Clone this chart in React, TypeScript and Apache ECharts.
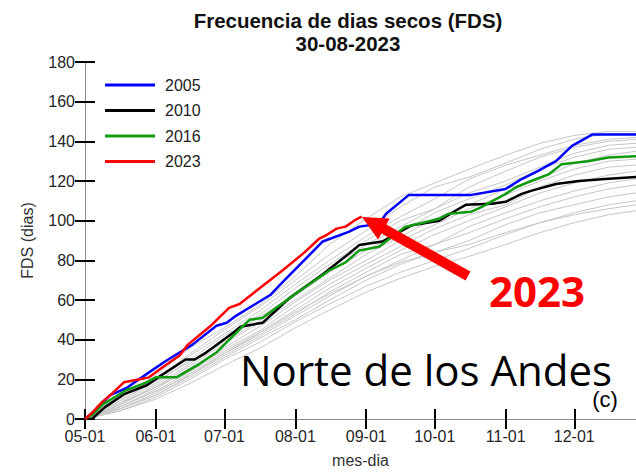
import React, { useEffect, useRef } from "react";
import * as echarts from "echarts";

// days since 05-01
const tickDays = [0, 31, 61, 92, 123, 153, 184, 214];
const tickLabels = ["05-01", "06-01", "07-01", "08-01", "09-01", "10-01", "11-01", "12-01"];
const xMax = 241;

const years = ["2005", "2010", "2016", "2023"];
const yearColors = ["#0000ff", "#000000", "#0f9a0f", "#ff0000"];

const s2005 = [
  [0, 0], [5, 5], [11, 12], [18, 15.5], [28, 23.5], [35, 29], [47, 37.5], [57.5, 47], [62, 48.5],
  [66, 52], [81, 62.5], [86, 68.5], [104, 89.5], [115.6, 94.5], [120, 97], [128.6, 98.5],
  [131.7, 103.5], [141.7, 113], [169, 113], [184, 116], [191, 121], [198, 125], [206, 130],
  [213, 137.7], [222, 143.5], [241, 143.5],
];
const s2010 = [
  [0, 0], [3, 0], [8.7, 6], [17.4, 12.7], [27, 17], [32.7, 21.5], [44, 30], [48, 30], [53, 33.5],
  [56, 36], [66, 44.5], [68, 46.5], [77.7, 48.5], [89.4, 61], [104, 73], [115.6, 83.5], [120, 87.7],
  [130, 89.5], [143, 97.7], [155, 100], [162, 105], [166.5, 108], [178, 108.5], [184, 109.5],
  [191, 113.5], [195, 115], [206, 118.5], [216, 120], [227.5, 121], [241, 122],
];
const s2016 = [
  [0, 0], [3, 2], [8, 7.5], [18, 14.5], [27, 18.5], [31, 21], [40, 21], [50, 27.7], [57.4, 33.5],
  [68.3, 46], [72, 50], [77.7, 51], [92.5, 63.5], [107, 75], [114, 79], [120, 85], [128.6, 86.8],
  [140, 96.8], [155, 101], [159, 103.5], [169, 104.5], [173.6, 107], [184, 113.5], [188, 116.5],
  [194, 119.5], [203, 123.5], [208.5, 128.5], [220, 130], [229, 131.8], [241, 132.5],
];
const s2023 = [
  [0, 0], [3, 3], [7.4, 8.5], [12, 13], [17, 18.5], [24, 20], [28, 21], [35, 27], [41.4, 32],
  [45, 37.5], [54.5, 46.5], [63, 56], [67.6, 58], [86.5, 75], [96, 84], [102.5, 91], [106, 93],
  [110, 96], [114, 97], [117.7, 100], [121, 102],
];

const grayDays = [0, 15, 31, 46, 61, 77, 92, 107, 123, 138, 153, 168, 184, 199, 214, 229, 241];
const grayA = [0, 11, 22, 36, 46, 58, 72, 88, 101, 112, 119, 126, 133, 139, 143, 145, 145];
const grayB = [0, 9, 20, 33, 45, 57, 70, 83, 95, 107, 117, 122, 129, 136, 141, 144, 144];
const grayC = [0, 10, 21, 32, 43, 55, 68, 80, 92, 102, 111, 121, 128, 133, 138, 141, 142];
const grayD = [0, 8, 18, 30, 42, 53, 66, 78, 90, 100, 106, 117, 125, 132, 137, 140, 141];
const grayE = [0, 9, 19, 29, 40, 52, 63, 76, 88, 97, 106, 114, 120, 127, 134, 138, 139];
const grayF = [0, 7, 17, 28, 39, 50, 62, 74, 85, 94, 104, 111, 118, 126, 132, 136, 137];
const grayG = [0, 8, 16, 27, 38, 49, 60, 71, 83, 92, 101, 108, 116, 121, 129, 133, 135];
const grayH = [0, 6, 15, 26, 36, 47, 59, 70, 80, 90, 98, 106, 113, 120, 126, 130, 131];
const grayI = [0, 7, 16, 25, 35, 45, 57, 68, 78, 87, 96, 103, 108, 117, 123, 127, 128];
const grayJ = [0, 6, 14, 24, 34, 44, 55, 66, 76, 85, 93, 100, 107, 114, 119, 123, 125];
const grayK = [0, 5, 13, 23, 33, 43, 53, 64, 74, 83, 88, 97, 104, 110, 115, 119, 121];
const grayL = [0, 6, 14, 22, 32, 42, 52, 62, 72, 80, 88, 94, 101, 107, 112, 116, 118];
const grayM = [0, 5, 12, 21, 31, 41, 50, 60, 70, 78, 84, 90, 98, 104, 108, 112, 114];
const grayN = [0, 4, 11, 20, 30, 39, 49, 58, 67, 74, 80, 86, 93, 99, 104, 108, 110];
const grayO = [0, 5, 12, 22, 33, 44, 54, 63, 72, 79, 84, 88, 94, 99, 103, 106, 108];
const grayP = [0, 4, 10, 18, 27, 36, 46, 55, 64, 71, 77, 82, 88, 94, 99, 103, 105];
const grayYears = [grayA, grayB, grayC, grayD, grayE, grayF, grayG, grayH, grayI, grayJ, grayK, grayL, grayM, grayN, grayO, grayP];

const yTicks = { min: 0, max: 180, interval: 20 };

export default function App() {
  const ref = useRef<HTMLDivElement>(null);
  useEffect(() => {
    if (!ref.current) return;
    const chart = echarts.init(ref.current, null, { renderer: "svg" });
    const font = "'Liberation Sans', Arial, sans-serif";
    const tickStyle = { show: true, inside: true, length: 10, lineStyle: { color: "#000", width: 2 } };
    const axisLine = { show: true, lineStyle: { color: "#8a8a8a", width: 1 } };

    const graySeries = grayYears.map((vals, k) => ({
      type: "line",
      name: "g" + k,
      data: grayDays.map((d, i) => [d, vals[i]]),
      symbol: "none",
      lineStyle: { color: "#c6c6c6", width: 1 },
      silent: true,
      z: 1,
    }));
    const mainData = [s2005, s2010, s2016, s2023];
    const mainSeries = years.map((y, i) => ({
      type: "line",
      name: y,
      data: mainData[i],
      symbol: "none",
      lineStyle: { color: yearColors[i], width: 2.5 },
      itemStyle: { color: yearColors[i] },
      z: 3 + i,
    }));

    // arrow geometry
    const arrow = [
      [362, 217], [389.7, 218.5], [386.3, 224.6], [470.4, 271.6], [465.6, 280.4], [381.5, 233.4], [378.1, 239.5],
    ];

    chart.setOption({
      animation: false,
      backgroundColor: "#ffffff",
      grid: { left: 85, right: 0, top: 62, bottom: 51, containLabel: false },
      legend: {
        data: years,
        orient: "vertical",
        left: 100,
        top: 72,
        itemWidth: 50,
        itemHeight: 3,
        itemGap: 9.5,
        icon: "rect",
        textStyle: { fontFamily: font, fontSize: 16, color: "#222", padding: [0, 0, 0, 5], lineHeight: 16 },
      },
      xAxis: [
        {
          type: "value",
          min: 0,
          max: xMax,
          position: "bottom",
          name: "mes-dia",
          nameLocation: "middle",
          nameGap: 33,
          nameTextStyle: { fontFamily: font, fontSize: 16, color: "#333" },
          axisLine,
          axisTick: { ...tickStyle, customValues: tickDays },
          axisLabel: {
            customValues: tickDays,
            formatter: (v: number) => tickLabels[tickDays.indexOf(Math.round(v))] ?? "",
            fontFamily: font,
            fontSize: 16,
            color: "#262626",
            margin: 9,
          },
          splitLine: { show: false },
        },
        {
          type: "value",
          min: 0,
          max: xMax,
          position: "top",
          axisLine,
          axisTick: { ...tickStyle, customValues: tickDays },
          axisLabel: { show: false },
          splitLine: { show: false },
        },
      ],
      yAxis: [
        {
          type: "value",
          ...yTicks,
          position: "left",
          name: "FDS (dias)",
          nameLocation: "middle",
          nameGap: 50,
          nameTextStyle: { fontFamily: font, fontSize: 16, color: "#333" },
          axisLine,
          axisTick: tickStyle,
          axisLabel: { fontFamily: font, fontSize: 16, color: "#262626", margin: 10 },
          splitLine: { show: false },
        },
        {
          type: "value",
          ...yTicks,
          position: "right",
          axisLine,
          axisTick: tickStyle,
          axisLabel: { show: false },
          splitLine: { show: false },
        },
      ],
      series: [...graySeries, ...mainSeries],
      graphic: [
        {
          type: "text",
          x: 348,
          y: 20,
          style: {
            text: "Frecuencia de dias secos (FDS)",
            font: `bold 20.5px ${font}`,
            fill: "#111",
            align: "center",
            verticalAlign: "middle",
          },
        },
        {
          type: "text",
          x: 348,
          y: 43,
          style: {
            text: "30-08-2023",
            font: `bold 20.5px ${font}`,
            fill: "#111",
            align: "center",
            verticalAlign: "middle",
          },
        },
        {
          type: "polygon",
          shape: { points: arrow },
          style: { fill: "#ff0000" },
          z: 100,
        },
        {
          type: "text",
          x: 537,
          y: 290,
          style: {
            text: "2023",
            font: "bold 42px 'Open Sans', sans-serif",
            fill: "#ff0000",
            align: "center",
            verticalAlign: "middle",
          },
          z: 100,
        },
        {
          type: "text",
          x: 240,
          y: 369,
          style: {
            text: "Norte de los Andes",
            font: "42px 'Open Sans', sans-serif",
            fill: "#000",
            align: "left",
            verticalAlign: "middle",
          },
          z: 100,
        },
        {
          type: "text",
          x: 605,
          y: 399,
          style: {
            text: "(c)",
            font: `22px ${font}`,
            fill: "#000",
            align: "center",
            verticalAlign: "middle",
          },
          z: 100,
        },
      ],
    });
    return () => chart.dispose();
  }, []);
  return <div ref={ref} style={{ position: "fixed", left: 0, top: 0, width: 636, height: 473 }} />;
}
